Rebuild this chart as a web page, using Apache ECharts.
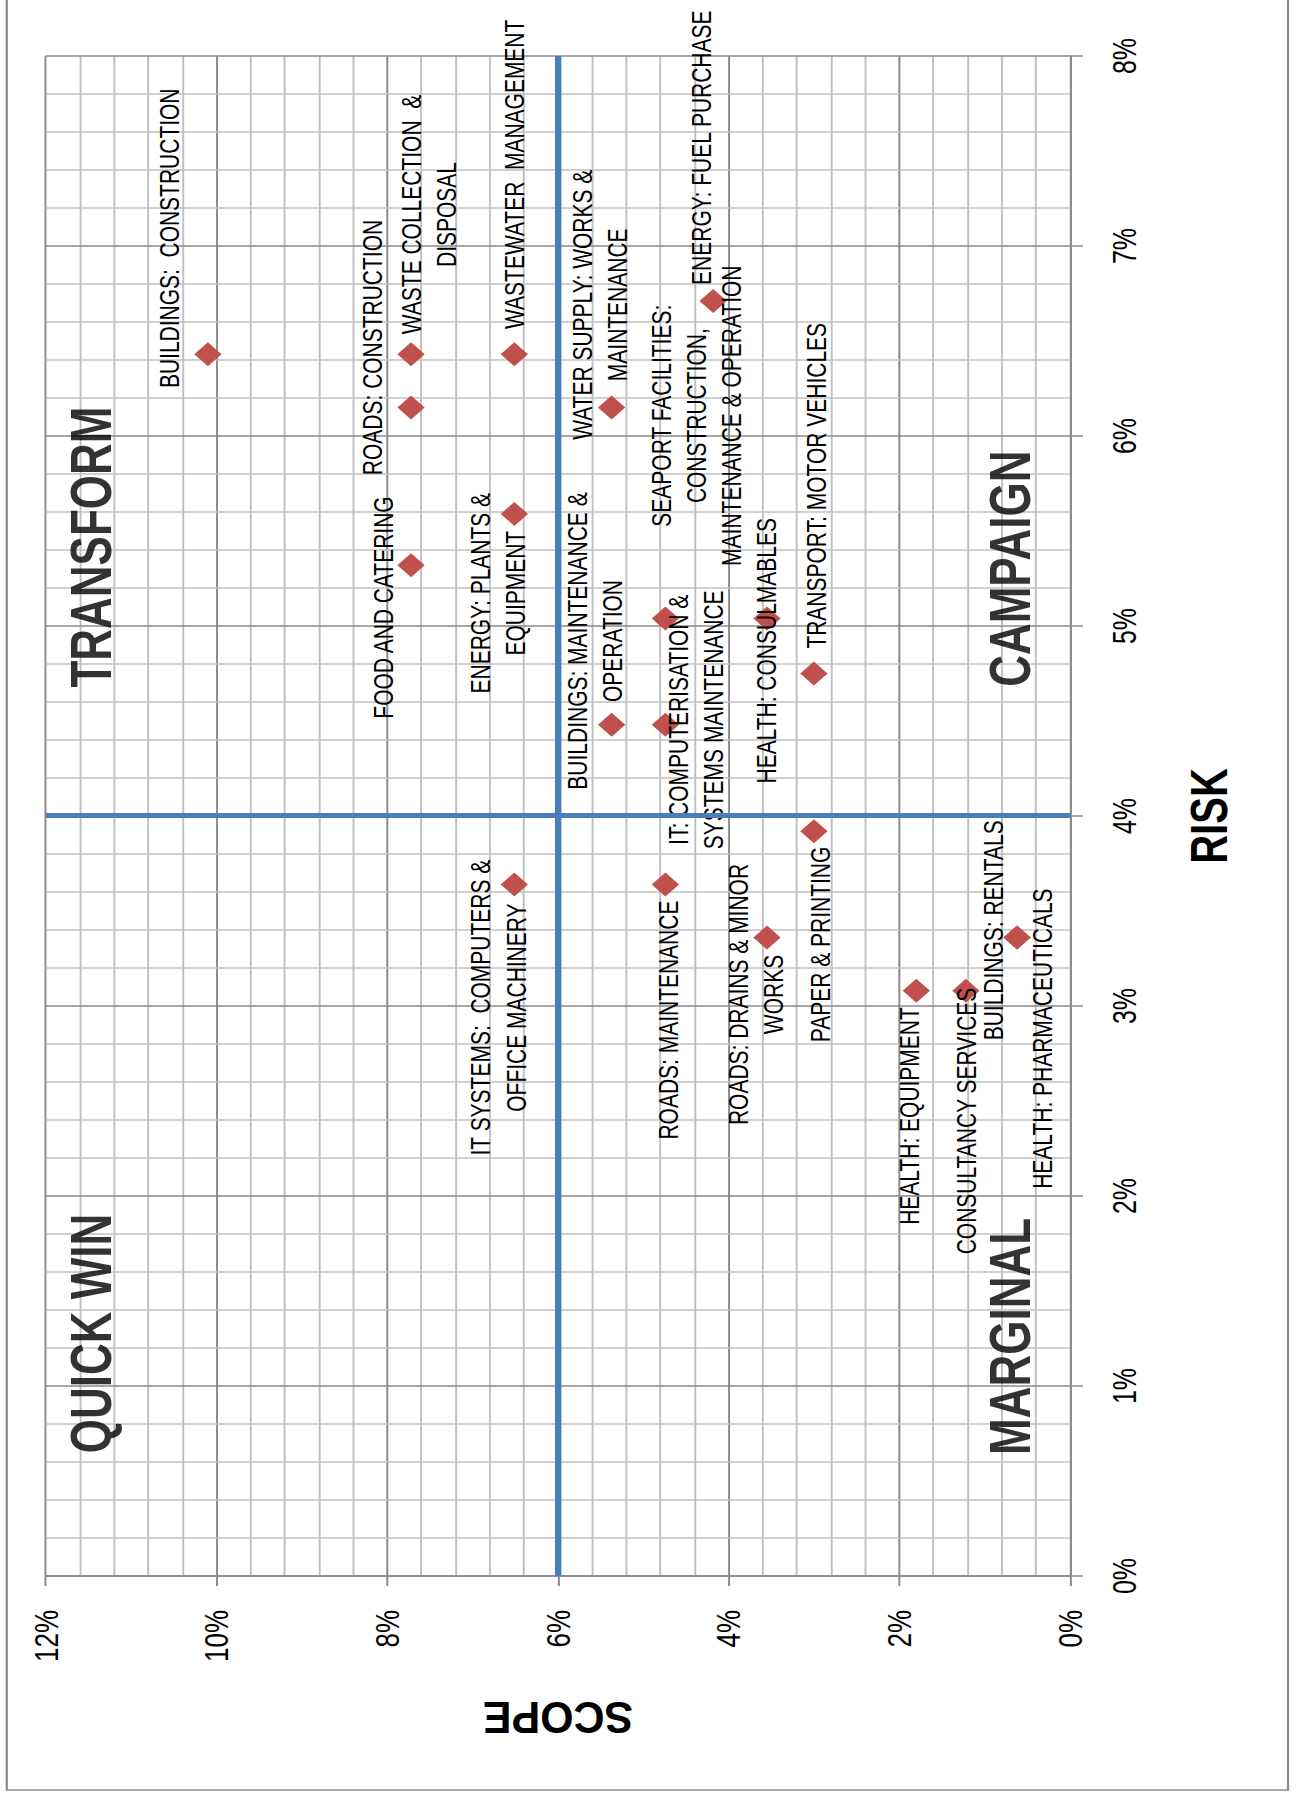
<!DOCTYPE html>
<html>
<head>
<meta charset="utf-8">
<title>Risk / Scope matrix</title>
<script src="https://cdn.jsdelivr.net/npm/echarts@6/dist/echarts.min.js"></script>
<style>
  html, body { margin: 0; padding: 0; background: #fff; overflow: hidden; }
  #page { position: relative; width: 1297px; height: 1796px; overflow: hidden; background: #fff; }
  /* The chart is laid out landscape and turned a quarter turn for the portrait page. */
  #chart {
    position: absolute; left: 0; top: 0;
    width: 1796px; height: 998px;
    transform-origin: 0 0;
    transform: scaleX(1.2996) translateY(1796px) rotate(-90deg);
  }
</style>
</head>
<body>
<div id="page"><div id="chart"></div></div>
<script>
// ---- data -------------------------------------------------------------
const CATEGORIES = [
  'BUILDINGS:  CONSTRUCTION',
  'ROADS: CONSTRUCTION',
  'WASTE COLLECTION  &\nDISPOSAL',
  'WASTEWATER  MANAGEMENT',
  'FOOD AND CATERING',
  'ENERGY: PLANTS &\nEQUIPMENT',
  'WATER SUPPLY: WORKS &\nMAINTENANCE',
  'BUILDINGS: MAINTENANCE &\nOPERATION',
  'SEAPORT FACILITIES:\nCONSTRUCTION,\nMAINTENANCE & OPERATION',
  'IT: COMPUTERISATION &\nSYSTEMS MAINTENANCE',
  'ENERGY: FUEL PURCHASE',
  'HEALTH: CONSULMABLES',
  'TRANSPORT: MOTOR VEHICLES',
  'IT SYSTEMS:  COMPUTERS &\nOFFICE MACHINERY',
  'ROADS: MAINTENANCE',
  'ROADS: DRAINS & MINOR\nWORKS',
  'PAPER & PRINTING',
  'HEALTH: EQUIPMENT',
  'CONSULTANCY SERVICES',
  'BUILDINGS: RENTALS',
  'HEALTH: PHARMACEUTICALS'
];

// SCOPE (%)
const SCOPE = [10.10, 7.72, 7.72, 6.51, 7.72, 6.51, 5.37, 5.37, 4.74, 4.74, 4.18,
               3.55, 3.00, 6.51, 4.74, 3.55, 3.00, 1.80, 1.22, 0.62, 0.62];
// RISK (%)
const RISK  = [6.43, 6.15, 6.43, 6.43, 5.32, 5.59, 6.15, 4.48, 5.04, 4.48, 6.71,
               5.04, 4.75, 3.64, 3.64, 3.36, 3.92, 3.08, 3.08, 3.36, 3.36];

const QUADRANTS = ['QUICK WIN', 'TRANSFORM', 'MARGINAL', 'CAMPAIGN'];

const RISK_TICKS  = ['0%', '1%', '2%', '3%', '4%', '5%', '6%', '7%', '8%'];
const SCOPE_TICKS = ['0%', '2%', '4%', '6%', '8%', '10%', '12%'];

// Dividing lines between the quadrants
const RISK_SPLIT = 4;
const SCOPE_SPLIT = 6;

// ---- layout -----------------------------------------------------------
// Label centre relative to its marker, in px [along risk, down].
const LABEL_OFFSETS = [
  [116, -29.7], [60, -29.8], [139.8, 13.7], [180, 0], [-42.3, -21.6],
  [-79.3, -12.9], [102.7, -9.3], [83.8, -12.6], [202.7, 24.1], [5, 23.5],
  [153.4, -8.8], [-32.4, 0], [187.7, 1.8], [-123.2, -12.2], [-135.7, 2.4],
  [-56.9, -8.5], [-113.2, 4.8], [-125.2, -5.5], [-130.2, 0.8], [7.3, -18.2],
  [-101, 19.6]
];
// Where each quadrant title starts, in axis units [risk, scope].
const QUADRANT_ANCHORS = [[0.646, 11.46], [4.676, 11.46], [0.637, 0.70], [4.68, 0.70]];

const FONT = '"Liberation Sans", Arial, sans-serif';

const points = CATEGORIES.map((name, i) => ({
  name: name,
  value: [RISK[i], SCOPE[i]],
  label: { offset: LABEL_OFFSETS[i] }
}));

const quadrantPoints = QUADRANTS.map((name, i) => ({
  name: name,
  value: QUADRANT_ANCHORS[i]
}));

const gridStyle = {
  splitLine: { show: true, lineStyle: { color: '#8a8a8a', width: 1.5 } },
  minorTick: { show: false, splitNumber: 5 },
  minorSplitLine: { show: true, lineStyle: { color: '#c0c0c0', width: 1.5 } },
  axisLine: { show: true, lineStyle: { color: '#8a8a8a', width: 1.5 } },
  axisTick: { show: true, inside: false, length: 10, lineStyle: { color: '#8a8a8a', width: 1.5 } }
};

const chart = echarts.init(document.getElementById('chart'), null, { renderer: 'svg' });

chart.setOption({
  animation: false,
  backgroundColor: '#fff',
  grid: {
    left: 220, right: 56, top: 35.2, bottom: 174.7,
    containLabel: false,
    outerBoundsMode: 'none'
  },
  xAxis: Object.assign({
    type: 'value',
    position: 'bottom',
    min: 0, max: 8, interval: 1,
    name: 'RISK',
    nameLocation: 'middle',
    nameGap: 87,
    nameTextStyle: { fontFamily: FONT, fontSize: 40, fontWeight: 'bold', color: '#000' },
    axisLabel: {
      formatter: (v) => RISK_TICKS[Math.round(v)],
      fontFamily: FONT, fontSize: 25, color: '#000', margin: 30
    }
  }, gridStyle),
  yAxis: Object.assign({
    type: 'value',
    position: 'left',
    min: 0, max: 12, interval: 2,
    axisLabel: {
      formatter: (v) => SCOPE_TICKS[Math.round(v / 2)],
      fontFamily: FONT, fontSize: 26, color: '#000', margin: 34
    }
  }, gridStyle),
  graphic: [
    {
      type: 'rect',
      silent: true,
      z: -10,
      shape: { x: 6, y: 5.2, width: 1800, height: 985.9 },
      style: { fill: 'none', stroke: '#8a8a8a', lineWidth: 1.7 }
    },
    {
      type: 'text',
      x: 78.5, y: 429.4,
      rotation: Math.PI / 2,
      scaleX: 0.75,
      silent: true,
      style: {
        text: 'SCOPE',
        fontFamily: FONT, fontSize: 44, fontWeight: 'bold',
        fill: '#000', align: 'center', verticalAlign: 'middle'
      }
    }
  ],
  series: [
    {
      name: 'Categories',
      type: 'scatter',
      data: points,
      symbol: 'diamond',
      symbolSize: [24, 21],
      itemStyle: { color: '#c0504d', opacity: 1 },
      z: 3,
      label: {
        show: true,
        position: 'inside',
        formatter: (p) => p.name,
        align: 'center',
        verticalAlign: 'middle',
        fontFamily: FONT,
        fontSize: 21,
        lineHeight: 27,
        color: '#000',
        textBorderWidth: 0
      },
      emphasis: { disabled: true },
      markLine: {
        silent: true,
        symbol: ['none', 'none'],
        label: { show: false },
        lineStyle: { color: '#4a7ebb', width: 5, type: 'solid', opacity: 1 },
        emphasis: { disabled: true },
        data: [{ xAxis: RISK_SPLIT }, { yAxis: SCOPE_SPLIT }]
      }
    },
    {
      name: 'Quadrants',
      type: 'scatter',
      data: quadrantPoints,
      symbolSize: 1,
      itemStyle: { color: 'rgba(0,0,0,0)' },
      z: 4,
      label: {
        show: true,
        position: 'inside',
        formatter: (p) => p.name,
        align: 'left',
        verticalAlign: 'middle',
        fontFamily: FONT,
        fontSize: 44,
        fontWeight: 'bold',
        color: '#000',
        textBorderWidth: 0
      },
      emphasis: { disabled: true }
    }
  ]
});
</script>
</body>
</html>
